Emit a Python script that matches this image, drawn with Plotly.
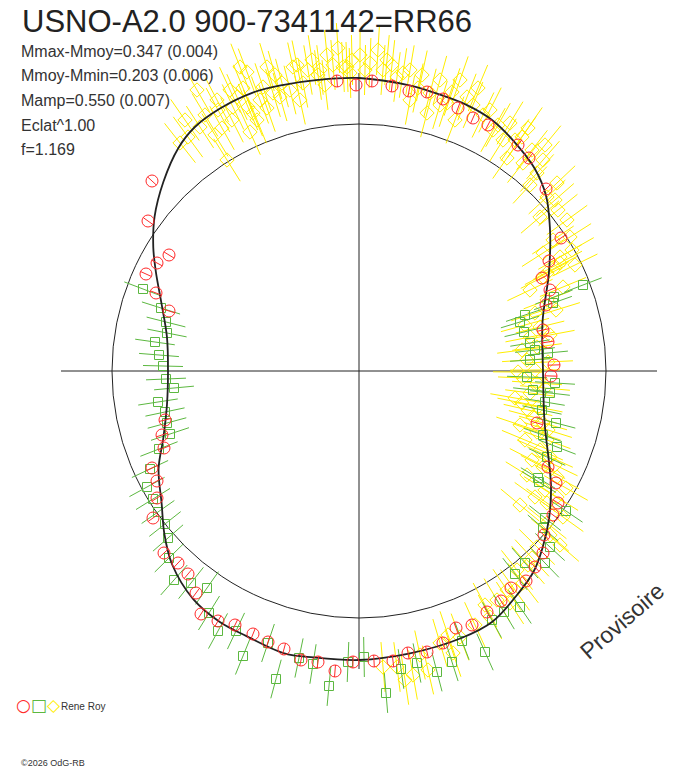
import numpy as np
import plotly.graph_objects as go

# Textes du graphique
TITRE = "USNO-A2.0 900-7341142=RR66"
STATS = ["Mmax-Mmoy=0.347 (0.004)", "Mmoy-Mmin=0.203 (0.006)",
         "Mamp=0.550 (0.007)", "Eclat^1.00", "f=1.169"]
OBSERVATEUR = "Rene Roy"
COPYRIGHT = "\u00a92026 OdG-RB"

# Courbe modele : phase (deg) et rayon
phase_modele = [0, 15, 27, 33, 37, 43, 49, 56, 62, 68, 74, 80, 90, 98, 105,
                111, 118, 124, 129, 136, 143, 149, 154, 161, 170, 180, 190,
                199, 206, 214, 220, 226, 234, 241, 247, 255, 261, 270, 280,
                291, 298, 306, 311, 316, 322, 329, 345, 360]
rayon_modele = [1.84, 1.90, 2.13, 2.28, 2.39, 2.56, 2.68, 2.77, 2.84, 2.87,
                2.88, 2.90, 2.93, 2.94, 2.96, 2.98, 2.97, 2.94, 2.87, 2.72,
                2.56, 2.40, 2.26, 2.09, 1.95, 1.91, 1.95, 2.07, 2.23, 2.38,
                2.54, 2.69, 2.82, 2.87, 2.88, 2.92, 2.90, 2.89, 2.87, 2.86,
                2.84, 2.73, 2.66, 2.55, 2.41, 2.24, 1.92, 1.84]

# Mesures (x, y) par serie
rouges = [(-0.22, 2.90), (-0.03, 2.86), (0.13, 2.90), (0.33, 2.85), (0.50, 2.80),
          (0.68, 2.79), (0.84, 2.72), (0.99, 2.63), (1.14, 2.53), (1.29, 2.46),
          (1.59, 2.26), (1.70, 2.13), (1.87, 1.82), (2.02, 1.33), (1.90, 1.10),
          (1.83, 0.93), (1.91, 0.81), (1.87, 0.66), (1.84, 0.41), (1.89, 0.29),
          (1.95, 0.06), (1.92, -0.05), (1.78, -0.52), (1.89, -0.96), (1.97, -1.12),
          (1.99, -1.32), (1.94, -1.44), (1.85, -1.64), (1.84, -1.82), (1.76, -1.96),
          (1.67, -2.10), (1.52, -2.17), (1.42, -2.30), (1.28, -2.41), (1.13, -2.54),
          (0.97, -2.57), (0.84, -2.72), (0.68, -2.81), (0.49, -2.82), (0.34, -2.90),
          (0.15, -2.90), (-0.06, -2.91), (-0.24, -3.00), (-0.41, -2.91), (-0.58, -2.89),
          (-0.75, -2.78), (-0.91, -2.71), (-1.06, -2.63), (-1.24, -2.54), (-1.41, -2.50),
          (-1.58, -2.43), (-1.63, -2.22), (-1.71, -2.03), (-1.81, -1.92), (-1.95, -1.82),
          (-2.06, -1.47), (-2.02, -1.27), (-2.02, -1.10), (-2.07, -0.97), (-1.95, -0.77),
          (-1.97, -0.64), (-1.94, -0.49), (-1.90, 0.60), (-2.03, 0.78), (-2.13, 0.97),
          (-2.02, 1.08), (-1.90, 1.16), (-2.11, 1.50), (-2.07, 1.90)]

verts = [(-2.16, 0.82), (-1.98, 0.63), (-1.93, 0.49), (-1.92, 0.38), (-2.04, 0.29),
         (-2.00, 0.16), (-1.96, 0.05), (-1.93, -0.08), (-1.85, -0.17), (-2.01, -0.31),
         (-1.94, -0.41), (-1.92, -0.52), (-1.89, -0.63), (-2.00, -0.78), (-2.09, -0.98),
         (-2.12, -1.16), (-2.06, -1.28), (-2.01, -1.41), (-1.94, -1.53), (-1.91, -1.67),
         (-1.90, -1.87), (-1.85, -2.09), (-1.68, -2.12), (-1.52, -2.17), (-1.50, -2.42),
         (-1.41, -2.60), (-1.23, -2.60), (-1.16, -2.85), (-0.91, -2.72), (-0.83, -3.08),
         (-0.60, -2.87), (-0.46, -2.93), (-0.30, -3.15), (-0.11, -2.91), (0.05, -2.86),
         (0.27, -3.22), (0.42, -2.98), (0.58, -2.92), (0.78, -3.01), (0.93, -2.91),
         (1.03, -2.70), (1.26, -2.81), (1.33, -2.49), (1.45, -2.41), (1.61, -2.36),
         (1.56, -2.03), (1.66, -1.92), (1.86, -1.92), (1.91, -1.76), (1.84, -1.57),
         (1.86, -1.47), (2.07, -1.40), (1.80, -1.11), (2.24, 0.86), (1.95, 0.74),
         (1.94, 0.68), (1.66, 0.56), (1.61, 0.49), (1.65, 0.39), (1.71, 0.28),
         (1.76, 0.21), (1.89, 0.18), (1.71, 0.11), (1.68, -0.06), (1.96, -0.12),
         (1.74, -0.19), (1.91, -0.22), (1.86, -0.31), (1.83, -0.39), (1.97, -0.52),
         (1.84, -0.64), (1.98, -0.76), (1.88, -0.86), (1.79, -1.07)]

jaunes = [(-1.79, 2.28), (-1.71, 2.34), (-1.59, 2.44), (-1.62, 2.81), (-1.44, 2.36),
          (-1.41, 2.61), (-1.42, 2.71), (-1.32, 2.11), (-1.29, 2.81), (-1.27, 2.51),
          (-1.26, 2.64), (-1.22, 2.74), (-1.19, 3.04), (-1.12, 2.99), (-1.11, 2.64),
          (-1.09, 2.39), (-1.06, 2.58), (-1.02, 2.51), (-0.96, 2.84), (-0.92, 2.63),
          (-0.92, 3.04), (-0.86, 2.78), (-0.79, 2.74), (-0.77, 2.88), (-0.69, 2.81),
          (-0.66, 3.04), (-0.62, 3.06), (-0.56, 2.88), (-0.47, 3.11), (-0.41, 2.96),
          (-0.39, 3.01), (-0.32, 3.16), (-0.26, 3.06), (-0.16, 3.04), (-0.12, 3.04),
          (-0.09, 2.98), (0.01, 3.16), (0.11, 3.08), (0.24, 3.01), (0.28, 3.11),
          (0.38, 2.94), (0.44, 2.98), (0.51, 3.01), (0.51, 2.71), (0.63, 2.96),
          (0.68, 2.58), (0.71, 2.78), (0.81, 2.66), (0.88, 2.68), (0.96, 2.51),
          (1.01, 2.91), (1.08, 2.74), (1.14, 2.66), (1.24, 2.56), (1.34, 2.41),
          (1.44, 2.31), (1.48, 2.13), (1.51, 2.48), (1.63, 2.34), (1.64, 2.08),
          (1.73, 2.21), (1.78, 1.98), (1.84, 2.11), (1.88, 1.74), (1.98, 1.88),
          (1.99, 1.61), (1.81, 1.54), (2.08, 1.51), (1.94, 1.31), (2.11, 1.34),
          (1.84, 1.18), (2.01, 1.14), (1.88, 0.98), (2.01, 1.08), (1.84, 0.94),
          (2.04, 0.84), (1.88, 0.71), (1.76, 0.58), (1.81, 0.44), (1.71, 0.34),
          (1.78, 0.24), (1.68, 0.11), (1.76, 0.01), (1.64, -0.07), (1.78, -0.12),
          (1.71, -0.22), (1.63, -0.32), (1.79, -0.36), (1.74, -0.46), (1.84, -0.52),
          (1.78, -0.61), (1.88, -0.69), (1.81, -0.79), (1.91, -0.86), (1.84, -0.96),
          (1.98, -1.06), (1.76, -1.26), (1.88, -1.32), (1.98, -1.26), (1.88, -1.52),
          (2.04, -1.46), (1.78, -1.76), (1.73, -1.87), (1.58, -1.99), (1.64, -2.12),
          (1.48, -2.19), (1.38, -2.29), (1.51, -2.32), (1.31, -2.46), (1.01, -2.66),
          (0.94, -2.82), (0.81, -2.72), (0.69, -2.99), (0.54, -3.04), (0.38, -2.96),
          (0.24, -2.96),
          (1.96, 1.03), (1.71, 0.81), (1.97, 0.61), (1.66, 0.46), (1.91, 0.36),
          (1.63, 0.21), (1.89, 0.09), (1.59, -0.01), (1.86, -0.17), (1.56, -0.27),
          (1.69, -0.39), (1.61, -0.54), (1.89, -0.59), (1.66, -0.69), (1.73, -0.89),
          (1.96, -0.94), (1.68, -1.04), (1.86, -1.19), (1.61, -1.34), (2.07, -1.17),
          (-1.74, 2.51), (-1.54, 2.56), (-1.37, 2.43), (-1.16, 2.83), (-0.99, 2.71),
          (-0.84, 2.96), (-0.59, 2.71), (-0.51, 3.01), (-0.34, 2.86), (-0.21, 3.23),
          (-0.07, 3.11), (0.06, 3.01), (0.19, 3.21), (0.33, 3.06), (0.59, 2.83),
          (0.81, 2.91), (0.93, 2.79), (1.19, 2.83), (1.31, 2.61), (1.39, 2.46),
          (1.56, 2.31), (1.69, 2.43), (1.86, 2.26), (1.71, 1.86), (1.96, 1.71),
          (2.13, 1.21), (2.16, 1.06),
          (1.91, -1.64), (2.01, -1.74), (1.69, -1.94), (1.56, -2.19), (1.26, -2.34),
          (1.16, -2.54), (0.89, -2.64), (0.61, -2.84), (0.46, -3.09)]

# Demi-longueur des barres d'erreur (radiales)
ERR_ROUGE = 0.06
ERR_VERT = 0.20
ERR_JAUNE = 0.25
R_REF = 2.47   # cercle de reference
AXE = 2.98     # demi-longueur des axes

ROUGE = "#ff2a2a"
VERT = "#5cb840"
JAUNE = "#ffee00"
NOIR = "#222222"


def barres(points, e):
    # segments radiaux passant par chaque point
    xs, ys = [], []
    for x, y in points:
        r = np.hypot(x, y)
        ux, uy = x / r, y / r
        xs += [x - e * ux, x + e * ux, None]
        ys += [y - e * uy, y + e * uy, None]
    return xs, ys


fig = go.Figure()

series = [(jaunes, ERR_JAUNE, JAUNE, "diamond-open", 11),
          (verts, ERR_VERT, VERT, "square-open", 9)]
for pts, e, col, sym, taille in series:
    bx, by = barres(pts, e)
    fig.add_trace(go.Scatter(x=bx, y=by, mode="lines",
                             line=dict(color=col, width=1), hoverinfo="skip"))
    fig.add_trace(go.Scatter(x=[p[0] for p in pts], y=[p[1] for p in pts],
                             mode="markers",
                             marker=dict(symbol=sym, size=taille, color=col,
                                         line=dict(width=1, color=col))))

# courbe modele
th = np.radians(phase_modele)
rm = np.array(rayon_modele)
fig.add_trace(go.Scatter(x=rm * np.cos(th), y=rm * np.sin(th), mode="lines",
                         line=dict(color=NOIR, width=1.8, shape="spline")))

bx, by = barres(rouges, ERR_ROUGE)
fig.add_trace(go.Scatter(x=bx, y=by, mode="lines",
                         line=dict(color=ROUGE, width=1), hoverinfo="skip"))
fig.add_trace(go.Scatter(x=[p[0] for p in rouges], y=[p[1] for p in rouges],
                         mode="markers",
                         marker=dict(symbol="circle-open", size=12, color=ROUGE,
                                     line=dict(width=1, color=ROUGE))))

# cercle et axes
fig.add_shape(type="circle", xref="x", yref="y", x0=-R_REF, y0=-R_REF,
              x1=R_REF, y1=R_REF, line=dict(color=NOIR, width=1), layer="below")
fig.add_shape(type="line", xref="x", yref="y", x0=-AXE, y0=0, x1=AXE, y1=0,
              line=dict(color=NOIR, width=1), layer="below")
fig.add_shape(type="line", xref="x", yref="y", x0=0, y0=-AXE, x1=0, y1=AXE,
              line=dict(color=NOIR, width=1), layer="below")

W, H = 688, 768
police = "Liberation Sans, Arial, sans-serif"

annots = [dict(text=TITRE, x=20 / W, y=1 - 21 / H, font=dict(size=31, color=NOIR))]
for i, s in enumerate(STATS):
    annots.append(dict(text=s, x=19 / W, y=1 - (51 + 24.7 * i) / H,
                       font=dict(size=16, color="#333333")))
annots.append(dict(
    text=f'<span style="color:{ROUGE}">\u25cb</span><span style="color:{VERT}">'
         f'\u25a1</span><span style="color:{JAUNE}">\u25c7</span>',
    x=14 / W, y=1 - 705 / H, font=dict(size=17, family="DejaVu Sans")))
annots.append(dict(text=OBSERVATEUR, x=59 / W, y=1 - 706 / H,
                   font=dict(size=10, color="#333333")))
annots.append(dict(text=COPYRIGHT, x=19 / W, y=1 - 763 / H,
                   font=dict(size=9, color="#333333")))
for a in annots:
    a.update(xref="paper", yref="paper", xanchor="left", yanchor="middle",
             showarrow=False)
    a["font"].setdefault("family", police)
annots.append(dict(text="Provisoire", x=622 / W, y=1 - 621 / H, xref="paper",
                   yref="paper", xanchor="center", yanchor="middle",
                   showarrow=False, textangle=-41,
                   font=dict(size=23, color="#333333", family=police)))

fig.update_layout(
    width=W, height=H,
    margin=dict(l=0, r=0, t=0, b=0),
    paper_bgcolor="white", plot_bgcolor="white",
    showlegend=False,
    annotations=annots,
    xaxis=dict(range=[-3.59, 3.29], visible=False, fixedrange=True),
    yaxis=dict(range=[-3.97, 3.71], visible=False, fixedrange=True),
)

fig.write_html("out.html", config={"displayModeBar": False},
               post_script="document.body.style.margin='0';")
